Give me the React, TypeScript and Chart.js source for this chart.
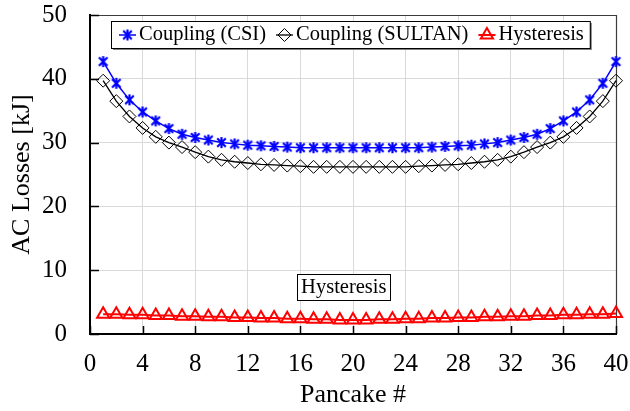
import React, { useEffect, useRef } from 'react';
import { Chart, registerables } from 'chart.js';
import { drawPoint } from 'chart.js/helpers';
Chart.register(...registerables);

const pancakes = [1, 2, 3, 4, 5, 6, 7, 8, 9, 10, 11, 12, 13, 14, 15, 16, 17, 18, 19, 20,
  21, 22, 23, 24, 25, 26, 27, 28, 29, 30, 31, 32, 33, 34, 35, 36, 37, 38, 39, 40];

const couplingCSI = [42.7, 39.3, 36.7, 34.8, 33.4, 32.2, 31.3, 30.8, 30.4, 30.0,
  29.8, 29.6, 29.5, 29.4, 29.3, 29.2, 29.2, 29.2, 29.2, 29.2,
  29.2, 29.2, 29.2, 29.2, 29.2, 29.3, 29.4, 29.5, 29.6, 29.8,
  30.0, 30.4, 30.8, 31.3, 32.2, 33.4, 34.8, 36.7, 39.3, 42.7];

const couplingSULTAN = [39.7, 36.5, 34.1, 32.3, 30.9, 30.0, 29.3, 28.5, 27.8, 27.3,
  27.0, 26.8, 26.6, 26.5, 26.4, 26.3, 26.2, 26.2, 26.2, 26.2,
  26.2, 26.2, 26.2, 26.2, 26.3, 26.4, 26.5, 26.6, 26.8, 27.0,
  27.3, 27.8, 28.5, 29.3, 30.0, 30.9, 32.3, 34.1, 36.5, 39.7];

const hysteresis = [3.1, 3.1, 3.0, 3.0, 2.9, 2.9, 2.8, 2.8, 2.7, 2.7,
  2.6, 2.6, 2.5, 2.5, 2.4, 2.4, 2.3, 2.3, 2.2, 2.2,
  2.2, 2.3, 2.3, 2.4, 2.4, 2.5, 2.5, 2.6, 2.6, 2.7,
  2.7, 2.8, 2.8, 2.9, 2.9, 3.0, 3.0, 3.1, 3.1, 3.2];

const seriesLabels = ['Coupling (CSI)', 'Coupling (SULTAN)', 'Hysteresis'];
const xLimits = [0, 40];
const yLimits = [0, 50];
const xStep = 4;
const yStep = 10;
const xTitle = 'Pancake #';
const yTitle = 'AC Losses [kJ]';
const annotationText = 'Hysteresis';
const annotationAt = { x: 19.3, y: 7.4 };

const FONT = '"Liberation Serif", "Times New Roman", serif';

function makeStar(color: string, size: number): HTMLCanvasElement {
  const c = document.createElement('canvas');
  c.width = size;
  c.height = size;
  const ctx = c.getContext('2d')!;
  ctx.strokeStyle = color;
  ctx.lineWidth = 2.2;
  const m = size / 2;
  const r = size / 2 - 1;
  const d = r * 0.78;
  ctx.beginPath();
  ctx.moveTo(m, m - r);
  ctx.lineTo(m, m + r);
  ctx.moveTo(m - d, m - d);
  ctx.lineTo(m + d, m + d);
  ctx.moveTo(m + d, m - d);
  ctx.lineTo(m - d, m + d);
  ctx.stroke();
  return c;
}

const zeroPad = (s: any) => {
  s.paddingTop = 0;
  s.paddingBottom = 0;
  s.paddingLeft = 0;
  s.paddingRight = 0;
};

const overlayPlugin = {
  id: 'overlay',
  beforeDatasetsDraw(chart: any) {
    const { ctx, chartArea } = chart;
    const { left, right, top, bottom } = chartArea;
    const xs = chart.scales.x;
    const ys = chart.scales.y;
    ctx.save();
    ctx.strokeStyle = '#3c3c3c';
    ctx.lineWidth = 1.2;
    ctx.beginPath();
    ctx.moveTo(left, top + 0.5);
    ctx.lineTo(right + 0.5, top + 0.5);
    ctx.lineTo(right + 0.5, bottom);
    ctx.stroke();
    ctx.strokeStyle = '#000';
    ctx.lineWidth = 1.5;
    ctx.beginPath();
    xs.ticks.forEach((t: any) => {
      const px = Math.round(xs.getPixelForValue(t.value)) + 0.5;
      ctx.moveTo(px, bottom);
      ctx.lineTo(px, bottom - 8);
    });
    ys.ticks.forEach((t: any) => {
      const py = Math.round(ys.getPixelForValue(t.value)) + 0.5;
      ctx.moveTo(left, py);
      ctx.lineTo(left + 9, py);
    });
    ctx.stroke();
    ctx.restore();
  },
  afterDraw(chart: any) {
    const { ctx, chartArea } = chart;
    const { left, top } = chartArea;
    ctx.save();
    ctx.font = `20.5px ${FONT}`;
    ctx.textBaseline = 'middle';
    ctx.textAlign = 'left';
    const sample = 17;
    const gapText = 3;
    const gapItem = 10;
    const padL = 8;
    const padR = 6;
    const datasets = chart.data.datasets;
    const widths = datasets.map((ds: any) => ctx.measureText(ds.label).width);
    let total = padL + padR;
    widths.forEach((w: number, i: number) => {
      total += sample + gapText + w + (i > 0 ? gapItem : 0);
    });
    const boxL = left + 21;
    const boxT = top + 6;
    const boxH = 27;
    ctx.fillStyle = '#7f7f7f';
    ctx.fillRect(boxL + 2, boxT + 2, total, boxH);
    ctx.fillStyle = '#fff';
    ctx.fillRect(boxL, boxT, total, boxH);
    ctx.strokeStyle = '#000';
    ctx.lineWidth = 1;
    ctx.strokeRect(boxL + 0.5, boxT + 0.5, total, boxH);
    const cy = boxT + boxH / 2 + 0.5;
    let sx = boxL + padL;
    datasets.forEach((ds: any, i: number) => {
      ctx.strokeStyle = ds.borderColor;
      ctx.lineWidth = ds.borderWidth;
      ctx.beginPath();
      ctx.moveTo(sx, cy);
      ctx.lineTo(sx + sample, cy);
      ctx.stroke();
      ctx.fillStyle = 'rgba(0,0,0,0)';
      ctx.strokeStyle = ds.pointBorderColor;
      ctx.lineWidth = ds.pointBorderWidth;
      drawPoint(ctx, {
        pointStyle: ds.pointStyle,
        radius: ds.pointRadius,
        rotation: 0,
        borderWidth: ds.pointBorderWidth,
      } as any, sx + sample / 2, cy);
      ctx.fillStyle = '#000';
      ctx.fillText(ds.label, sx + sample + gapText, cy);
      sx += sample + gapText + widths[i] + gapItem;
    });

    // annotation box
    const ax = chart.scales.x.getPixelForValue(annotationAt.x);
    const ay = chart.scales.y.getPixelForValue(annotationAt.y);
    const tw = ctx.measureText(annotationText).width;
    const bw = tw + 8;
    const bh = 26;
    ctx.fillStyle = '#fff';
    ctx.fillRect(ax - bw / 2, ay - bh / 2, bw, bh);
    ctx.strokeStyle = '#000';
    ctx.lineWidth = 1;
    ctx.strokeRect(Math.round(ax - bw / 2) + 0.5, Math.round(ay - bh / 2) + 0.5, Math.round(bw), bh);
    ctx.fillStyle = '#000';
    ctx.textAlign = 'center';
    ctx.fillText(annotationText, ax, ay + 1);
    ctx.restore();
  },
};

export default function App() {
  const ref = useRef<HTMLCanvasElement | null>(null);
  useEffect(() => {
    if (!ref.current) return;
    const star = makeStar('#0000ff', 13);
    const toXY = (vals: number[]) => vals.map((v, i) => ({ x: pancakes[i], y: v }));
    const tickFont = { family: FONT, size: 25 };
    const titleFont = { family: FONT, size: 26 };
    const chart = new Chart(ref.current, {
      type: 'line',
      data: {
        datasets: [
          {
            label: seriesLabels[0],
            data: toXY(couplingCSI),
            borderColor: '#0000ff',
            borderWidth: 1.5,
            pointStyle: star as any,
            pointRadius: 6,
            pointBorderColor: '#0000ff',
            pointBorderWidth: 2,
            pointBackgroundColor: 'rgba(0,0,0,0)',
            tension: 0,
            clip: false,
          },
          {
            label: seriesLabels[1],
            data: toXY(couplingSULTAN),
            borderColor: '#000000',
            borderWidth: 1.3,
            pointStyle: 'rectRot',
            pointRadius: 6.5,
            pointBorderColor: '#000000',
            pointBorderWidth: 1,
            pointBackgroundColor: 'rgba(0,0,0,0)',
            tension: 0,
            clip: false,
          },
          {
            label: seriesLabels[2],
            data: toXY(hysteresis),
            borderColor: '#ff0000',
            borderWidth: 2,
            pointStyle: 'triangle',
            pointRadius: 7,
            pointBorderColor: '#ff0000',
            pointBorderWidth: 2,
            pointBackgroundColor: 'rgba(0,0,0,0)',
            tension: 0,
            clip: false,
          },
        ],
      },
      options: {
        responsive: false,
        animation: false,
        events: [],
        layout: { padding: { top: 15, right: 14, left: 0, bottom: 0 } },
        plugins: { legend: { display: false }, tooltip: { enabled: false } },
        scales: {
          x: {
            type: 'linear',
            min: xLimits[0],
            max: xLimits[1],
            ticks: { stepSize: xStep, font: tickFont, color: '#000', padding: 15, maxRotation: 0, autoSkip: false },
            grid: { color: '#d9d9d9', lineWidth: 1, drawTicks: false },
            border: { color: '#000', width: 2 },
            title: { display: true, text: xTitle, font: titleFont, color: '#000', padding: { top: 0, bottom: 0 } },
            afterFit: (s: any) => { s.height = 77; zeroPad(s); },
          },
          y: {
            min: yLimits[0],
            max: yLimits[1],
            ticks: { stepSize: yStep, font: tickFont, color: '#000', padding: 23 },
            grid: { color: '#d9d9d9', lineWidth: 1, drawTicks: false },
            border: { color: '#000', width: 2 },
            title: { display: true, text: yTitle, font: titleFont, color: '#000', padding: { top: 7, bottom: 0 } },
            afterFit: (s: any) => { s.width = 90; zeroPad(s); },
          },
        },
      },
      plugins: [overlayPlugin],
    });
    return () => chart.destroy();
  }, []);
  return (
    <div style={{ position: 'fixed', left: 0, top: 0, width: 630, height: 411, background: '#fff' }}>
      <canvas ref={ref} width={630} height={411} style={{ width: 630, height: 411, display: 'block' }} />
    </div>
  );
}
